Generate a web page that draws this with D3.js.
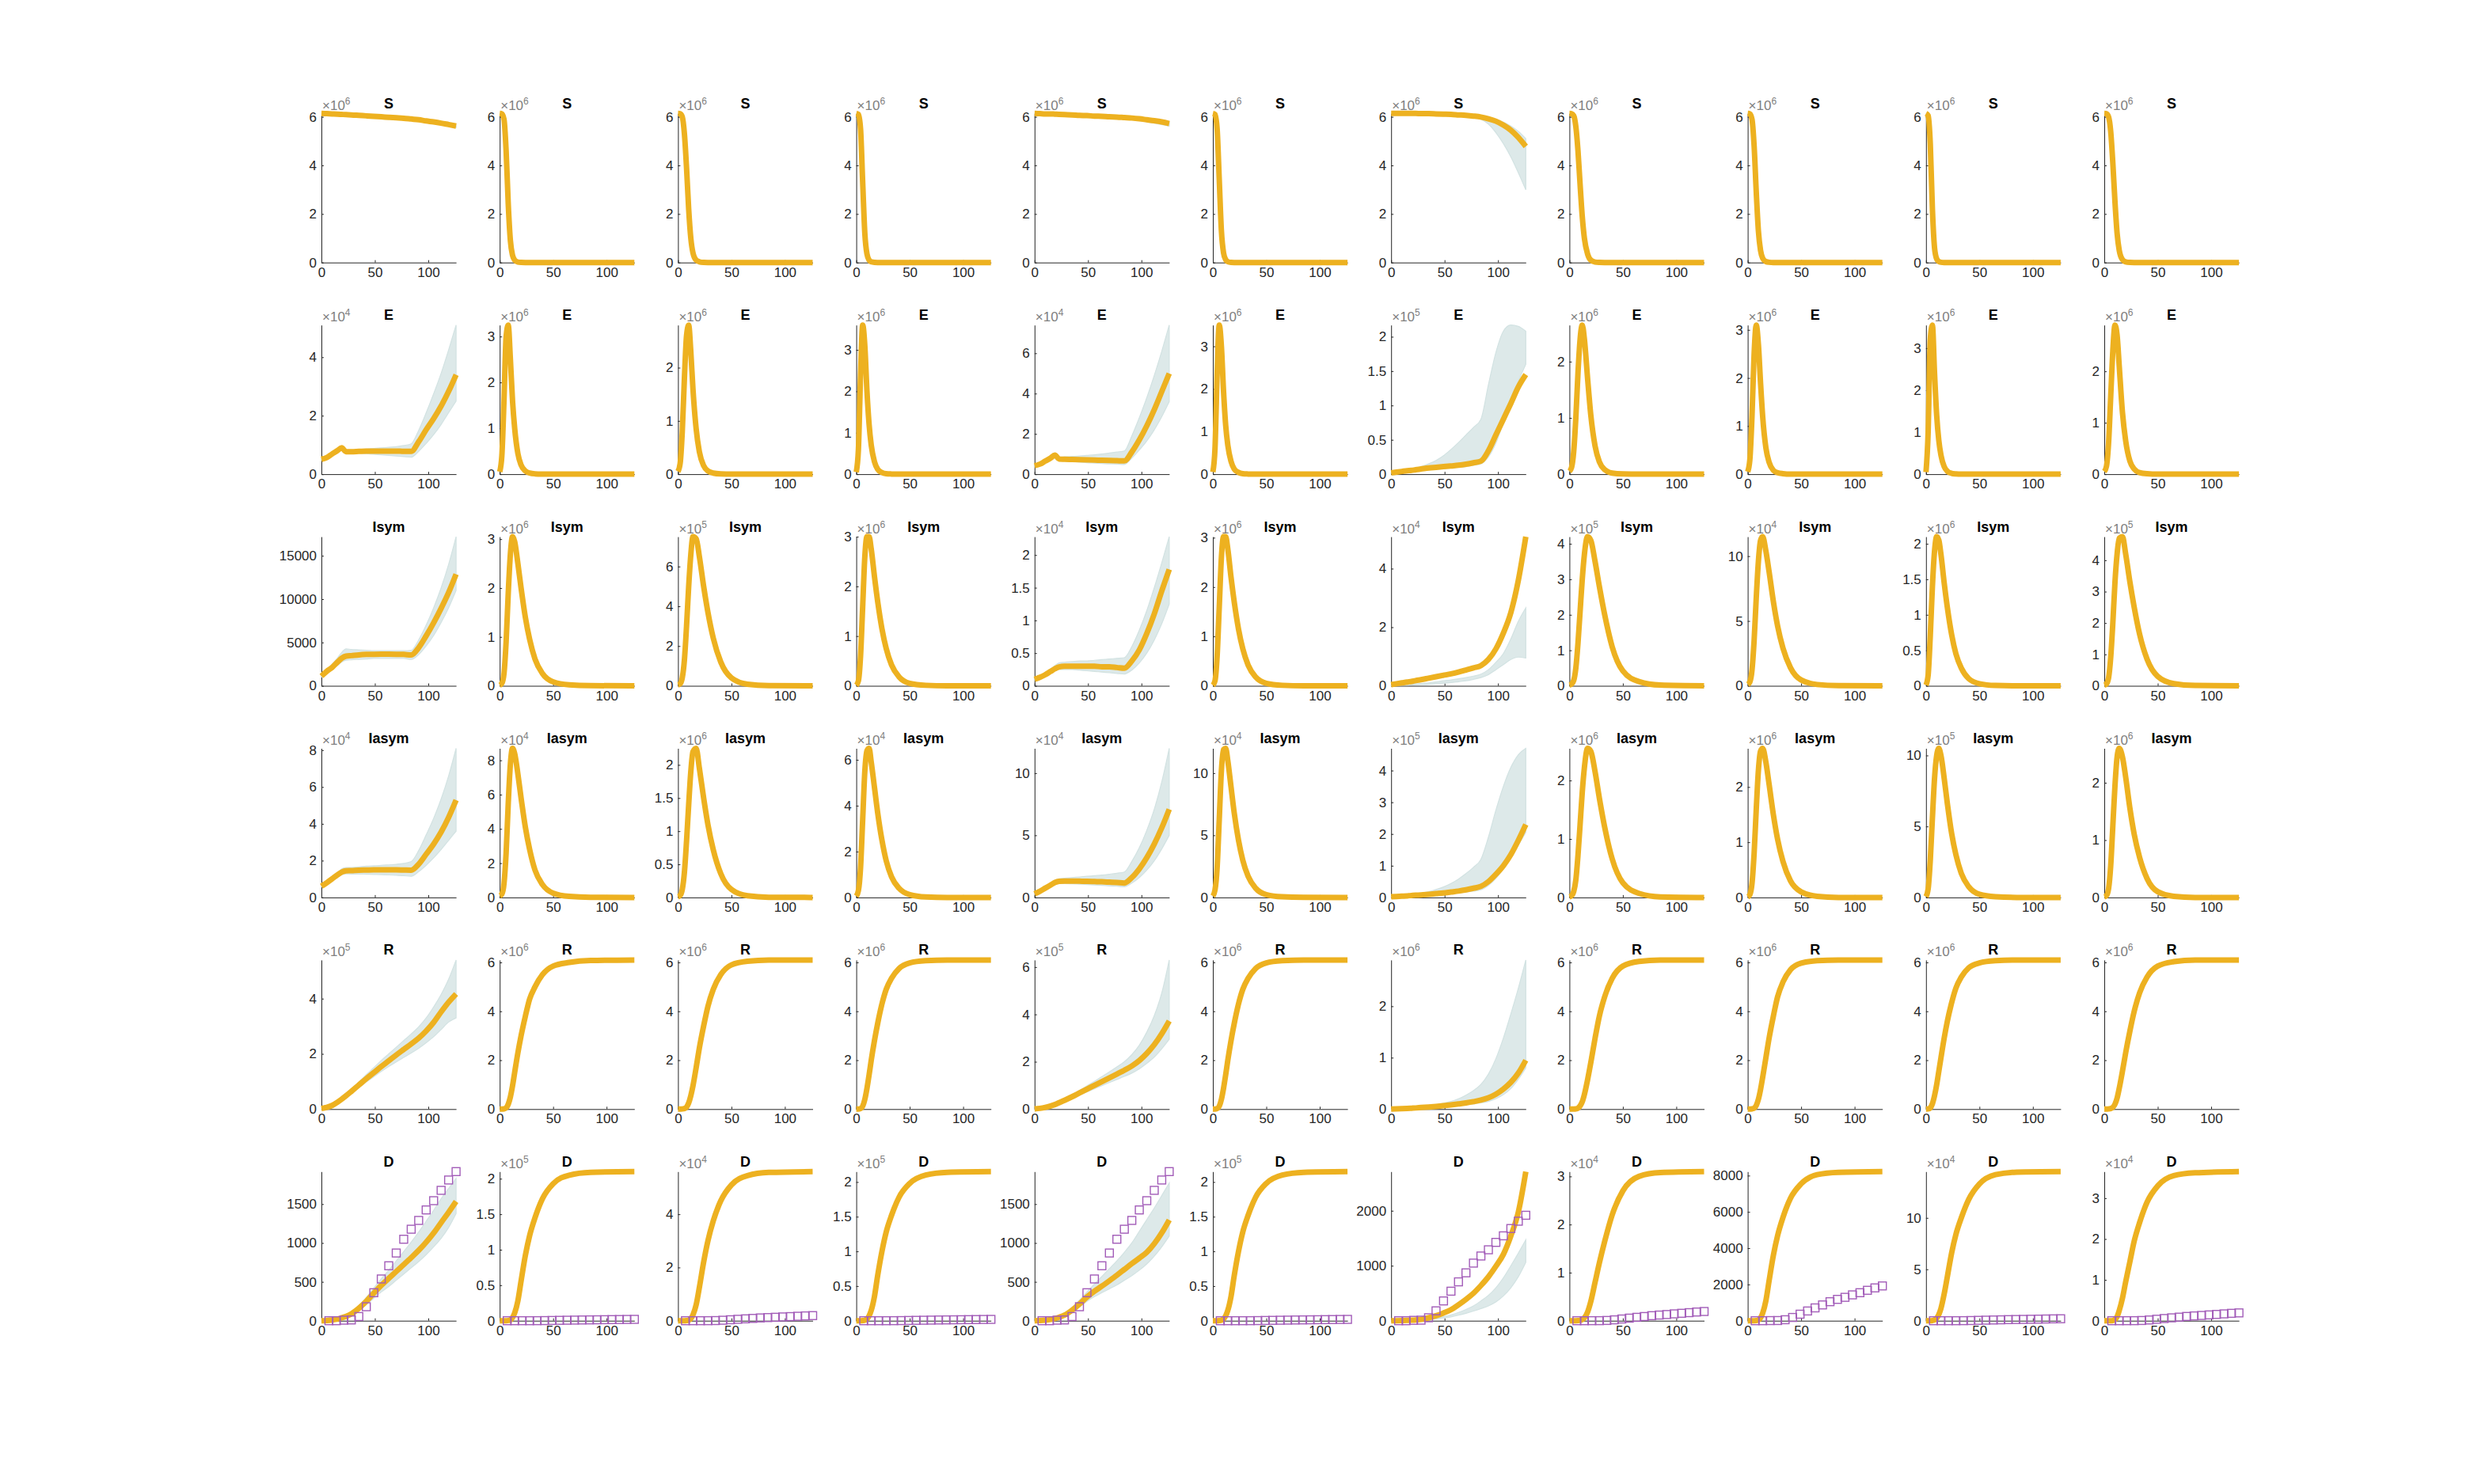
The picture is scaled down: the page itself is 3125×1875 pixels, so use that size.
<!DOCTYPE html>
<html><head><meta charset="utf-8">
<script src="https://cdn.jsdelivr.net/npm/d3@7"></script>
<style>body{margin:0;background:#fff}svg{display:block}</style>
</head><body><svg id="c" width="3125" height="1875"></svg>
<script>
// ---------- time grids ----------
const tSlow = [0,5,10,15,19,23,28,35,42,49,56,63,70,77,84,91,98,105,112,119,126];
const tFast = [0,2,4,6,8,10,12,14,17,20,24,28,33,40,50,65,85,126];
const slowCols = [0,4,6];
const tObs = [7,14,21,28,35,42,49,56,63,70,77,84,91,98,105,112,119,126];
const dObs = [0,0,7,10,54,180,360,537,707,871,1048,1177,1290,1425,1544,1677,1810,1918];
const rowTitles = ["S","E","Isym","Iasym","R","D"];
const xTicks = [0,50,100];

// exponent (×10^n) per panel, rows S,E,Isym,Iasym,R,D
const expo = [
 [6,6,6,6,6,6,6,6,6,6,6],
 [4,6,6,6,4,6,5,6,6,6,6],
 [0,6,5,6,4,6,4,5,4,6,5],
 [4,4,6,4,4,4,5,6,6,5,6],
 [5,6,6,6,5,6,6,6,6,6,6],
 [0,5,4,5,0,5,0,4,0,4,4]
];
const yTicks = [
 [[0,2,4,6],[0,2,4,6],[0,2,4,6],[0,2,4,6],[0,2,4,6],[0,2,4,6],[0,2,4,6],[0,2,4,6],[0,2,4,6],[0,2,4,6],[0,2,4,6]],
 [[0,2,4],[0,1,2,3],[0,1,2],[0,1,2,3],[0,2,4,6],[0,1,2,3],[0,0.5,1,1.5,2],[0,1,2],[0,1,2,3],[0,1,2,3],[0,1,2]],
 [[0,5000,10000,15000],[0,1,2,3],[0,2,4,6],[0,1,2,3],[0,0.5,1,1.5,2],[0,1,2,3],[0,2,4],[0,1,2,3,4],[0,5,10],[0,0.5,1,1.5,2],[0,1,2,3,4]],
 [[0,2,4,6,8],[0,2,4,6,8],[0,0.5,1,1.5,2],[0,2,4,6],[0,5,10],[0,5,10],[0,1,2,3,4],[0,1,2],[0,1,2],[0,5,10],[0,1,2]],
 [[0,2,4],[0,2,4,6],[0,2,4,6],[0,2,4,6],[0,2,4,6],[0,2,4,6],[0,1,2],[0,2,4,6],[0,2,4,6],[0,2,4,6],[0,2,4,6]],
 [[0,500,1000,1500],[0,0.5,1,1.5,2],[0,2,4],[0,0.5,1,1.5,2],[0,500,1000,1500],[0,0.5,1,1.5,2],[0,1000,2000],[0,1,2,3],[0,2000,4000,6000,8000],[0,5,10],[0,1,2,3]]
];

// ---------- S ----------
const S_line = [
 [6.14,6.13,6.12,6.11,6.10,6.09,6.08,6.06,6.04,6.02,6.00,5.98,5.96,5.94,5.91,5.88,5.83,5.79,5.74,5.68,5.62],
 [6.14,6.12,5.9,4.6,2.4,0.9,0.3,0.1,0.02,0.005,0,0,0,0,0,0,0,0],
 [6.14,6.13,6.0,5.3,3.9,2.2,1.0,0.4,0.1,0.03,0.005,0,0,0,0,0,0,0],
 [6.14,6.1,5.5,3.3,1.2,0.35,0.1,0.03,0.005,0,0,0,0,0,0,0,0,0],
 [6.14,6.13,6.12,6.12,6.11,6.10,6.09,6.08,6.06,6.05,6.03,6.02,6.00,5.99,5.97,5.95,5.92,5.88,5.84,5.79,5.72],
 [6.14,6.1,5.5,3.4,1.3,0.4,0.12,0.035,0.005,0,0,0,0,0,0,0,0,0],
 [6.14,6.14,6.14,6.14,6.14,6.14,6.13,6.13,6.12,6.11,6.10,6.08,6.06,6.03,5.99,5.92,5.82,5.66,5.45,5.15,4.78],
 [6.14,6.13,6.05,5.6,4.6,3.2,1.9,1.0,0.35,0.1,0.02,0.005,0,0,0,0,0,0],
 [6.14,6.12,5.9,4.8,2.9,1.3,0.5,0.18,0.04,0.01,0,0,0,0,0,0,0,0],
 [6.14,6.05,4.9,2.2,0.6,0.15,0.04,0.01,0,0,0,0,0,0,0,0,0,0],
 [6.14,6.13,6.0,5.4,4.1,2.5,1.2,0.5,0.12,0.03,0.005,0,0,0,0,0,0,0]
];
const S_lo = [
 [6.14,6.13,6.12,6.11,6.1,6.09,6.08,6.06,6.04,6.02,6.0,5.98,5.96,5.93,5.9,5.86,5.81,5.76,5.7,5.63,5.56],
 null,null,null,
 [6.14,6.13,6.12,6.11,6.1,6.09,6.08,6.06,6.04,6.02,6.0,5.98,5.96,5.94,5.91,5.88,5.84,5.79,5.74,5.68,5.62],
 null,
 [6.14,6.14,6.14,6.14,6.14,6.14,6.13,6.13,6.12,6.11,6.09,6.07,6.04,5.98,5.9,5.7,5.35,4.9,4.35,3.7,3.0],
 null,null,null,null
];
const S_hi = [
 [6.14,6.13,6.12,6.11,6.10,6.09,6.08,6.06,6.04,6.02,6.00,5.98,5.96,5.94,5.91,5.88,5.83,5.79,5.74,5.68,5.63],
 null,null,null,
 [6.14,6.13,6.12,6.12,6.11,6.1,6.09,6.08,6.07,6.06,6.04,6.03,6.02,6.01,5.99,5.97,5.94,5.91,5.87,5.82,5.76],
 null,
 [6.14,6.14,6.14,6.14,6.14,6.14,6.14,6.13,6.13,6.12,6.11,6.1,6.08,6.06,6.03,5.98,5.9,5.78,5.62,5.4,5.1],
 null,null,null,null
];

// ---------- E ----------
const E_line = [
 [0.51,0.57,0.69,0.81,0.9,0.77,0.77,0.78,0.79,0.79,0.79,0.79,0.79,0.78,0.78,1.11,1.52,1.9,2.33,2.83,3.4],
 [0.05,0.4,1.6,3.0,3.25,2.5,1.6,1.0,0.45,0.2,0.07,0.025,0.008,0.002,0,0,0,0],
 [0.05,0.2,0.8,1.8,2.6,2.8,2.3,1.6,0.85,0.42,0.16,0.06,0.02,0.005,0,0,0,0],
 [0.05,0.6,2.4,3.6,3.1,2.0,1.2,0.7,0.3,0.12,0.04,0.012,0.004,0,0,0,0,0],
 [0.42,0.5,0.65,0.8,0.95,0.75,0.74,0.73,0.72,0.71,0.7,0.69,0.68,0.67,0.66,1.1,1.7,2.4,3.2,4.1,5.0],
 [0.05,0.6,2.35,3.5,3.0,1.95,1.15,0.68,0.3,0.12,0.04,0.012,0.004,0,0,0,0,0],
 [0.02,0.03,0.04,0.05,0.055,0.065,0.075,0.09,0.1,0.11,0.12,0.13,0.145,0.165,0.19,0.34,0.57,0.8,1.03,1.27,1.45],
 [0.05,0.12,0.4,1.0,1.8,2.4,2.65,2.4,1.7,1.05,0.5,0.22,0.08,0.02,0.004,0,0,0],
 [0.05,0.3,1.2,2.5,3.1,2.7,1.9,1.2,0.55,0.25,0.08,0.03,0.01,0,0,0,0,0],
 [0.05,1.0,3.2,3.55,2.4,1.4,0.8,0.45,0.18,0.07,0.02,0.006,0,0,0,0,0,0],
 [0.05,0.15,0.6,1.5,2.4,2.9,2.7,2.1,1.2,0.65,0.25,0.1,0.03,0.008,0,0,0,0]
];
const E_lo = [
 [0.48,0.54,0.65,0.76,0.84,0.72,0.72,0.72,0.7,0.68,0.66,0.64,0.62,0.6,0.58,0.78,1.05,1.35,1.7,2.1,2.5],
 null,null,null,
 [0.4,0.47,0.6,0.74,0.87,0.68,0.66,0.63,0.6,0.57,0.55,0.53,0.51,0.5,0.48,0.8,1.2,1.65,2.2,2.85,3.6],
 null,
 [0.015,0.02,0.03,0.04,0.045,0.05,0.055,0.06,0.07,0.08,0.09,0.1,0.11,0.13,0.15,0.25,0.45,0.75,1.05,1.35,1.6],
 null,null,null,null
];
const E_hi = [
 [0.54,0.6,0.73,0.86,0.96,0.82,0.82,0.84,0.86,0.88,0.9,0.92,0.94,0.98,1.04,1.5,2.1,2.75,3.45,4.25,5.1],
 null,null,null,
 [0.45,0.53,0.7,0.86,1.02,0.85,0.86,0.88,0.9,0.93,0.96,1.0,1.05,1.1,1.15,1.9,2.8,3.8,4.9,6.1,7.4],
 null,
 [0.02,0.03,0.045,0.06,0.075,0.09,0.11,0.15,0.2,0.27,0.36,0.46,0.57,0.68,0.8,1.3,1.77,2.08,2.17,2.15,2.08],
 null,null,null,null
];

// ---------- Isym ----------
const Is_line = [
 [1120,1670,2120,2730,3180,3420,3480,3570,3620,3640,3650,3650,3640,3620,3560,4400,5760,7270,8940,10760,12880],
 [0.01,0.05,0.25,0.9,1.9,2.7,3.05,2.95,2.5,2.0,1.4,0.95,0.55,0.25,0.08,0.02,0.003,0],
 [0.05,0.1,0.4,1.3,3.0,5.0,6.6,7.5,7.4,6.5,5.0,3.7,2.4,1.2,0.4,0.08,0.01,0],
 [0.01,0.1,0.6,1.6,2.6,3.0,3.0,2.75,2.2,1.7,1.15,0.75,0.42,0.18,0.05,0.01,0,0],
 [0.1,0.13,0.17,0.22,0.26,0.29,0.3,0.3,0.3,0.3,0.3,0.29,0.29,0.28,0.27,0.38,0.55,0.8,1.1,1.45,1.78],
 [0.01,0.1,0.6,1.6,2.6,3.02,3.02,2.77,2.2,1.7,1.15,0.75,0.42,0.18,0.05,0.01,0,0],
 [0.04,0.07,0.1,0.13,0.15,0.18,0.21,0.26,0.31,0.36,0.41,0.47,0.54,0.61,0.69,0.9,1.26,1.8,2.5,3.6,5.09],
 [0.02,0.05,0.15,0.5,1.2,2.1,3.0,3.7,4.2,4.1,3.5,2.8,2.0,1.1,0.42,0.12,0.02,0],
 [0.1,0.3,1.2,3.5,6.8,9.6,11.2,11.5,10.4,8.8,6.5,4.6,2.9,1.4,0.45,0.1,0.01,0],
 [0.01,0.15,0.7,1.4,1.9,2.1,2.05,1.85,1.45,1.1,0.72,0.45,0.25,0.1,0.03,0.005,0,0],
 [0.02,0.06,0.25,0.9,2.0,3.3,4.2,4.7,4.75,4.2,3.3,2.5,1.65,0.85,0.3,0.07,0.01,0]
];
const Is_lo = [
 [1000,1450,1850,2350,2750,2950,3000,3050,3100,3150,3150,3150,3150,3150,3050,3600,4600,5800,7300,9000,11000],
 null,null,null,
 [0.09,0.12,0.15,0.19,0.23,0.25,0.25,0.25,0.24,0.23,0.22,0.21,0.2,0.19,0.18,0.24,0.35,0.5,0.7,0.95,1.25],
 null,
 [0.01,0.015,0.02,0.025,0.03,0.035,0.04,0.05,0.07,0.09,0.11,0.14,0.17,0.22,0.28,0.38,0.55,0.72,0.9,0.98,0.95],
 null,null,null,null
];
const Is_hi = [
 [1250,1900,2500,3200,3850,4250,4200,4150,4100,4050,4050,4050,4050,4050,4100,5300,7000,9000,11300,14000,17200],
 null,null,null,
 [0.11,0.15,0.2,0.26,0.31,0.35,0.36,0.37,0.38,0.38,0.39,0.4,0.41,0.42,0.43,0.6,0.85,1.15,1.5,1.88,2.28],
 null,
 [0.02,0.03,0.04,0.05,0.06,0.07,0.08,0.1,0.13,0.17,0.2,0.24,0.28,0.33,0.4,0.55,0.8,1.1,1.6,2.2,2.66],
 null,null,null,null
];

// ---------- Iasym ----------
const Ia_line = [
 [0.61,0.8,1.01,1.23,1.38,1.45,1.46,1.48,1.49,1.5,1.5,1.5,1.5,1.49,1.48,1.81,2.35,2.9,3.55,4.35,5.29],
 [0.1,0.2,0.8,2.6,5.5,7.8,8.7,8.4,7.2,5.8,4.1,2.8,1.6,0.75,0.25,0.06,0.01,0],
 [0.01,0.03,0.12,0.38,0.85,1.4,1.9,2.2,2.25,1.95,1.5,1.1,0.72,0.36,0.12,0.025,0.003,0],
 [0.05,0.3,1.3,3.4,5.5,6.4,6.5,5.9,4.8,3.7,2.5,1.6,0.9,0.4,0.12,0.02,0,0],
 [0.3,0.5,0.75,1.0,1.2,1.3,1.32,1.32,1.31,1.3,1.28,1.26,1.23,1.2,1.16,1.6,2.3,3.2,4.3,5.6,7.1],
 [0.1,0.6,2.4,6.3,10.2,11.9,12.0,11,8.9,6.8,4.6,3.0,1.7,0.75,0.22,0.05,0.01,0],
 [0.02,0.03,0.04,0.05,0.06,0.07,0.08,0.1,0.12,0.14,0.17,0.2,0.24,0.29,0.35,0.5,0.73,1.0,1.35,1.8,2.3],
 [0.01,0.03,0.1,0.3,0.72,1.25,1.8,2.22,2.55,2.5,2.15,1.7,1.2,0.66,0.25,0.07,0.01,0],
 [0.01,0.05,0.25,0.8,1.6,2.3,2.65,2.7,2.45,2.05,1.5,1.05,0.65,0.3,0.1,0.02,0,0],
 [0.05,0.6,2.6,5.6,8.4,10,10.5,10,8.4,6.6,4.5,3.0,1.7,0.75,0.22,0.05,0,0],
 [0.01,0.03,0.15,0.55,1.25,1.95,2.45,2.6,2.45,2.1,1.55,1.1,0.7,0.33,0.1,0.02,0,0]
];
const Ia_lo = [
 [0.57,0.74,0.93,1.12,1.24,1.28,1.27,1.27,1.26,1.25,1.24,1.22,1.2,1.18,1.15,1.4,1.75,2.15,2.6,3.1,3.6],
 null,null,null,
 [0.27,0.45,0.68,0.9,1.06,1.12,1.12,1.1,1.07,1.04,1.0,0.97,0.93,0.9,0.86,1.15,1.6,2.2,2.95,3.9,5.0],
 null,
 [0.015,0.02,0.03,0.04,0.045,0.05,0.06,0.07,0.08,0.1,0.12,0.14,0.17,0.2,0.24,0.38,0.6,0.9,1.25,1.65,2.05],
 null,null,null,null
];
const Ia_hi = [
 [0.66,0.87,1.1,1.35,1.55,1.62,1.63,1.66,1.7,1.72,1.74,1.77,1.8,1.85,1.95,2.55,3.4,4.3,5.35,6.6,8.1],
 null,null,null,
 [0.33,0.55,0.83,1.12,1.36,1.5,1.55,1.6,1.65,1.7,1.75,1.8,1.87,1.95,2.05,2.9,4.0,5.4,7.1,9.3,12.0],
 null,
 [0.02,0.03,0.045,0.06,0.08,0.1,0.13,0.18,0.25,0.33,0.44,0.58,0.75,0.95,1.2,1.9,2.75,3.5,4.1,4.5,4.7],
 null,null,null,null
];

// ---------- R ----------
const R_line = [
 [0.02,0.06,0.13,0.25,0.36,0.48,0.64,0.87,1.1,1.32,1.54,1.75,1.96,2.16,2.36,2.57,2.83,3.14,3.52,3.87,4.17],
 [0,0,0.01,0.05,0.2,0.5,0.95,1.5,2.3,3.0,3.8,4.5,5.0,5.5,5.85,6.0,6.08,6.1],
 [0,0,0.005,0.02,0.08,0.25,0.55,0.95,1.7,2.5,3.4,4.2,4.9,5.5,5.9,6.05,6.1,6.1],
 [0,0,0.02,0.12,0.4,0.85,1.4,2.0,2.8,3.5,4.3,4.9,5.35,5.75,5.98,6.07,6.1,6.1],
 [0.01,0.03,0.07,0.13,0.19,0.27,0.37,0.52,0.68,0.84,1.0,1.16,1.32,1.48,1.64,1.82,2.05,2.35,2.72,3.18,3.72],
 [0,0,0.02,0.12,0.4,0.85,1.4,2.0,2.8,3.5,4.3,4.9,5.35,5.75,5.98,6.07,6.1,6.1],
 [0,0.003,0.007,0.012,0.017,0.022,0.03,0.04,0.052,0.066,0.082,0.1,0.12,0.145,0.175,0.22,0.29,0.39,0.52,0.7,0.95],
 [0,0,0.003,0.01,0.04,0.13,0.3,0.6,1.2,1.9,2.9,3.8,4.6,5.35,5.85,6.04,6.1,6.1],
 [0,0,0.01,0.04,0.15,0.4,0.8,1.3,2.1,2.9,3.8,4.6,5.2,5.7,5.97,6.07,6.1,6.1],
 [0,0.005,0.05,0.22,0.55,1.0,1.55,2.1,2.9,3.6,4.35,4.95,5.4,5.78,5.98,6.07,6.1,6.1],
 [0,0,0.005,0.02,0.07,0.2,0.45,0.85,1.55,2.3,3.2,4.0,4.75,5.4,5.85,6.03,6.1,6.1]
];
const R_lo = [
 [0.02,0.05,0.12,0.23,0.33,0.44,0.58,0.78,0.98,1.17,1.36,1.54,1.71,1.87,2.03,2.2,2.4,2.62,2.88,3.15,3.3],
 null,null,null,
 [0.01,0.03,0.07,0.12,0.17,0.24,0.33,0.46,0.59,0.72,0.86,0.99,1.12,1.25,1.38,1.52,1.7,1.93,2.2,2.55,2.95],
 null,
 [0,0.002,0.005,0.009,0.012,0.016,0.021,0.028,0.036,0.045,0.056,0.07,0.085,0.1,0.12,0.15,0.2,0.28,0.4,0.58,0.8],
 null,null,null,null
];
const R_hi = [
 [0.02,0.06,0.14,0.27,0.4,0.54,0.72,0.98,1.25,1.5,1.76,2.0,2.24,2.48,2.72,2.98,3.3,3.7,4.15,4.7,5.4],
 null,null,null,
 [0.01,0.03,0.08,0.15,0.22,0.31,0.43,0.6,0.79,0.98,1.17,1.37,1.57,1.78,2.0,2.3,2.7,3.25,3.95,4.9,6.3],
 null,
 [0,0.003,0.008,0.015,0.022,0.03,0.042,0.06,0.085,0.115,0.15,0.2,0.27,0.36,0.48,0.68,0.98,1.38,1.85,2.35,2.9],
 null,null,null,null
];

// ---------- D ----------
const D_line = [
 [0,3,10,22,38,56,88,160,250,355,455,545,633,722,812,905,1010,1128,1262,1395,1534],
 [0,0,0,0,0.003,0.012,0.045,0.11,0.28,0.56,0.92,1.2,1.45,1.72,1.93,2.05,2.09,2.1],
 [0,0,0,0,0.005,0.02,0.08,0.22,0.6,1.25,2.2,3.0,3.75,4.5,5.1,5.45,5.57,5.6],
 [0,0,0,0.002,0.008,0.025,0.07,0.15,0.35,0.65,1.0,1.28,1.52,1.78,1.98,2.1,2.14,2.15],
 [0,2,7,16,28,45,71,135,215,305,380,445,514,585,660,735,805,880,990,1130,1296],
 [0,0,0,0.002,0.008,0.025,0.07,0.15,0.35,0.65,1.0,1.28,1.52,1.78,1.98,2.1,2.14,2.15],
 [0,1,3,6,10,15,24,53,90,140,200,290,389,500,640,798,990,1207,1543,1976,2712],
 [0,0,0,0,0.002,0.008,0.025,0.06,0.18,0.4,0.8,1.2,1.65,2.2,2.7,3.0,3.08,3.1],
 [0,0,0,0,5,40,160,420,1100,2200,3600,4700,5700,6750,7550,8050,8180,8220],
 [0,0,0,0.02,0.08,0.25,0.6,1.2,2.6,4.3,6.6,8.4,10,11.8,13.3,14.2,14.45,14.5],
 [0,0,0,0,0.005,0.03,0.1,0.25,0.55,0.95,1.45,1.95,2.4,2.9,3.3,3.55,3.62,3.65]
];
const D_lo = [
 [0,2,8,18,32,48,75,135,205,290,370,440,520,600,680,760,850,950,1060,1200,1380],
 null,null,null,
 [0,2,6,13,24,38,60,110,175,250,310,360,410,460,520,580,650,730,830,950,1090],
 null,
 [0,1,2,3,5,7,10,20,32,50,70,100,135,175,220,269,340,450,600,800,1062],
 null,null,null,null
];
const D_hi = [
 [0,4,12,27,46,68,105,195,300,420,540,650,770,890,1010,1140,1280,1420,1570,1700,1830],
 null,null,null,
 [0,3,9,20,36,58,92,170,265,370,470,570,670,770,880,1000,1150,1300,1450,1610,1772],
 null,
 [0,1,2,4,6,9,14,28,45,72,105,150,205,270,360,462,600,780,1000,1230,1471],
 null,null,null,null
];

// ---------- drawing ----------
const rows = [
 {line:S_line, lo:S_lo, hi:S_hi},
 {line:E_line, lo:E_lo, hi:E_hi},
 {line:Is_line, lo:Is_lo, hi:Is_hi},
 {line:Ia_line, lo:Ia_lo, hi:Ia_hi},
 {line:R_line, lo:R_lo, hi:R_hi},
 {line:D_line, lo:D_lo, hi:D_hi}
];
const FONT = '"Liberation Sans", Arial, Helvetica, sans-serif';
const X0 = 406, DX = 225.2, W = 170.1, Y0 = 143.3, DY = 267.4, H = 188.4;
const ORANGE = "#EDB120", BAND = "#dde9e9", BANDLINE = "#d2e2e2", PURPLE = "#a25cb8", AX = "#262626";

const svg = d3.select("#c");
svg.append("rect").attr("width",3125).attr("height",1875).attr("fill","#fff");

rows.forEach((row, r) => {
  for (let c = 0; c < 11; c++) {
    const t = slowCols.includes(c) ? tSlow : tFast;
    const vals = row.line[c], lo = row.lo[c], hi = row.hi[c];
    const e = expo[r][c];
    const obs = r === 5 ? dObs.map(v => v / Math.pow(10, e)) : null;
    const top = d3.max([d3.max(vals), hi ? d3.max(hi) : 0, obs ? d3.max(obs) : 0]);
    const x = d3.scaleLinear().domain([0, 126]).range([0, W]);
    const y = d3.scaleLinear().domain([0, top]).range([H, 0]);
    const g = svg.append("g").attr("transform", `translate(${X0 + DX * c},${Y0 + DY * r})`);

    // axes
    const ya = d3.axisLeft(y).tickValues(yTicks[r][c].filter(v => v <= top * 1.0001))
      .tickSize(-3).tickSizeOuter(0).tickPadding(6).tickFormat(d3.format("~g"));
    const xa = d3.axisBottom(x).tickValues(xTicks).tickSize(-3).tickSizeOuter(0)
      .tickPadding(6).tickFormat(d3.format("~g"));
    const gy = g.append("g").call(ya);
    const gx = g.append("g").attr("transform", `translate(0,${H})`).call(xa);
    [gx, gy].forEach(a => {
      a.attr("font-family", FONT).attr("font-size", 17);
      a.selectAll("path,line").attr("stroke", AX).attr("stroke-width", 1);
      a.selectAll("text").attr("fill", AX);
    });

    // ensemble band
    if (lo && hi) {
      const band = t.map((tt, i) => ({t: tt, lo: lo[i], hi: hi[i]}));
      g.append("path").datum(band)
        .attr("d", d3.area().x(d => x(d.t)).y0(d => y(d.lo)).y1(d => y(d.hi)).curve(d3.curveMonotoneX))
        .attr("fill", BAND).attr("stroke", BANDLINE).attr("stroke-width", 1.2);
    }
    // main line
    const pts = t.map((tt, i) => ({t: tt, v: vals[i]}));
    g.append("path").datum(pts)
      .attr("d", d3.line().x(d => x(d.t)).y(d => y(d.v)).curve(d3.curveMonotoneX))
      .attr("fill", "none").attr("stroke", ORANGE).attr("stroke-width", 7)
      .attr("stroke-linejoin", "round");
    // observations
    if (obs) {
      g.selectAll("rect.obs").data(tObs.map((tt, i) => ({t: tt, v: obs[i]}))).enter()
        .append("rect").attr("class", "obs")
        .attr("x", d => x(d.t) - 5).attr("y", d => y(d.v) - 5)
        .attr("width", 10).attr("height", 10)
        .attr("fill", "none").attr("stroke", PURPLE).attr("stroke-width", 1.4);
    }
    // title
    g.append("text").attr("x", W / 2).attr("y", -6.5).attr("text-anchor", "middle")
      .attr("font-family", FONT).attr("font-size", 18).attr("font-weight", "bold")
      .attr("fill", "#000").text(rowTitles[r]);
    // exponent label
    if (e !== 0) {
      const tx = g.append("text").attr("x", 1).attr("y", -4.5)
        .attr("font-family", FONT).attr("font-size", 17).attr("fill", "#808080");
      tx.append("tspan").text("×10");
      tx.append("tspan").attr("dy", -7).attr("font-size", 12).text(e);
    }
  }
});
</script>
</body></html>
